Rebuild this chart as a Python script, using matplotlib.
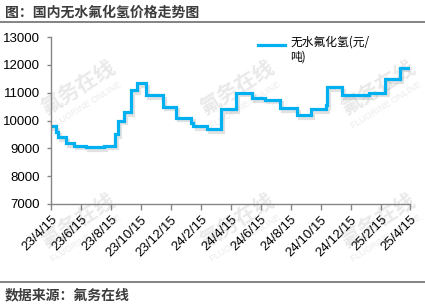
import matplotlib
matplotlib.use('Agg')
import matplotlib.pyplot as plt
import matplotlib.patheffects as pe
from matplotlib.lines import Line2D
import pandas as pd

# ---- data ----
change_dates = ['2023-04-15', '2023-04-26', '2023-04-30', '2023-05-16', '2023-05-31',
                '2023-06-26', '2023-07-31', '2023-08-24', '2023-08-29', '2023-09-11',
                '2023-09-25', '2023-10-07', '2023-10-25', '2023-11-29', '2023-12-25',
                '2024-01-26', '2024-01-30', '2024-02-27', '2024-03-26', '2024-04-26',
                '2024-05-28', '2024-06-24', '2024-07-25', '2024-08-28', '2024-09-26',
                '2024-10-25', '2024-10-27', '2024-11-28', '2025-01-21', '2025-02-24',
                '2025-03-26']
prices = [9800, 9600, 9400, 9200, 9100,
          9050, 9100, 9500, 10000, 10300,
          11100, 11350, 10900, 10500, 10100,
          9900, 9800, 9700, 10400, 11000,
          10800, 10750, 10450, 10200, 10400,
          10550, 11200, 10900, 11000, 11500,
          11900]
end_date = '2025-04-15'
series_name = '无水氟化氢(元/\n吨)'
tick_dates = ['2023-04-15', '2023-06-15', '2023-08-15', '2023-10-15', '2023-12-15',
              '2024-02-15', '2024-04-15', '2024-06-15', '2024-08-15', '2024-10-15',
              '2024-12-15', '2025-02-15', '2025-04-15']
tick_labels = ['23/4/15', '23/6/15', '23/8/15', '23/10/15', '23/12/15', '24/2/15',
               '24/4/15', '24/6/15', '24/8/15', '24/10/15', '24/12/15', '25/2/15',
               '25/4/15']
y_ticks = [7000, 8000, 9000, 10000, 11000, 12000, 13000]
title = '图：国内无水氟化氢价格走势图'
source = '数据来源：氟务在线'
wm_main = '氟务在线'
wm_sub = 'FLUORINE ONLINE'

cjk = ['Noto Sans CJK SC', 'DejaVu Sans']
num_font = ['Liberation Sans', 'DejaVu Sans']

W, H = 425, 305
fig = plt.figure(figsize=(W / 100, H / 100), dpi=100)
fig.patch.set_facecolor('white')

def fx(px):
    return px / W

def fy(py):
    return 1 - py / H

# watermarks
for cx in (78, 237, 378):
    for cy in (87, 220):
        fig.text(fx(cx), fy(cy), wm_main, family=cjk, fontsize=15, fontweight='bold',
                 color='#e9e9e9', rotation=32, ha='center', va='center', zorder=-5)
        fig.text(fx(cx + 8), fy(cy + 18), wm_sub, family=num_font, fontsize=6.5,
                 color='#ececec', rotation=32, ha='center', va='center', zorder=-5)

ax = fig.add_axes([fx(51), fy(204), fx(410) - fx(51), fy(37) - fy(204)])
ax.patch.set_visible(False)

x = pd.to_datetime(change_dates + [end_date])
y = prices + [prices[-1]]
ax.step(x, y, where='post', color='#00B0F0', lw=2.3, solid_joinstyle='miter',
        label=series_name,
        path_effects=[pe.SimpleLineShadow(offset=(1.5, -2), shadow_color='#999999', alpha=0.28),
                      pe.Normal()])

ax.set_xlim(pd.Timestamp(tick_dates[0]), pd.Timestamp(tick_dates[-1]))
ax.set_ylim(7000, 13000)
ax.set_yticks(y_ticks)
ax.set_yticklabels([str(v) for v in y_ticks], family=num_font, fontsize=9.5)
ax.set_xticks(pd.to_datetime(tick_dates))
ax.set_xticklabels(tick_labels, family=num_font, fontsize=9.5, rotation=45,
                   ha='right', va='top', rotation_mode='anchor')

for s in ('top', 'right'):
    ax.spines[s].set_visible(False)
for s in ('left', 'bottom'):
    ax.spines[s].set_color('#868686')
    ax.spines[s].set_linewidth(1.0)
ax.tick_params(axis='y', length=3, width=1, color='#868686', pad=5)
ax.tick_params(axis='x', length=4, width=1, color='#868686', pad=3)

leg = ax.legend(loc='upper left', bbox_to_anchor=(fx(258), fy(36)),
                bbox_transform=fig.transFigure, frameon=False, borderpad=0,
                borderaxespad=0, handlelength=2.3, handletextpad=0.45,
                prop={'family': cjk, 'size': 8.5})
hl = leg.legend_handles[0]
hl.set_path_effects([])
hl.set_ydata([v + 4.5 for v in hl.get_ydata()])

# header / footer
fig.text(fx(5), fy(13), title, family=cjk, fontsize=10, fontweight='bold',
         color='#3c3c3c', ha='left', va='center')
fig.add_artist(Line2D([0, 1], [fy(22), fy(22)], transform=fig.transFigure,
                      color='#6e6e6e', lw=1.2))
fig.add_artist(Line2D([0, 1], [fy(282), fy(282)], transform=fig.transFigure,
                      color='#6e6e6e', lw=1.2))
fig.text(fx(5), fy(295), source, family=cjk, fontsize=10, fontweight='bold',
         color='#3c3c3c', ha='left', va='center')

fig.savefig('out.png', dpi=100)
